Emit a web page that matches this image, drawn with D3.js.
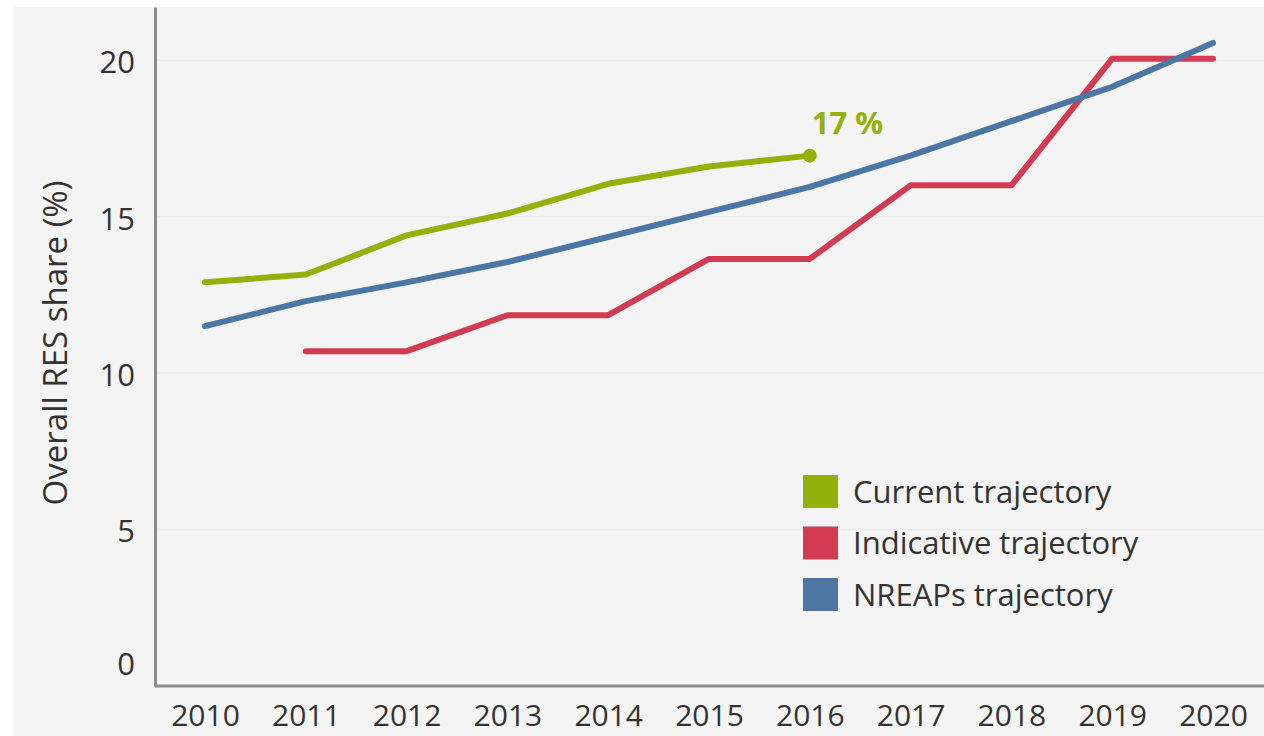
<!DOCTYPE html>
<html lang="en">
<head>
  <meta charset="UTF-8">
  <title>Overall RES share trajectories</title>
  <script src="https://d3js.org/d3.v7.min.js"></script>
  <style>
    body { margin: 0; background: #fff; }
    svg { display: block; }
    text { font-family: "Open Sans", sans-serif; fill: #333; }
  </style>
</head>
<body>
<svg width="1264" height="736"></svg>
<script>
  const years = [2010, 2011, 2012, 2013, 2014, 2015, 2016, 2017, 2018, 2019, 2020];
  const currentYears = [2010, 2011, 2012, 2013, 2014, 2015, 2016];
  const currentValues = [12.9, 13.15, 14.4, 15.1, 16.05, 16.6, 16.95];
  const indicativeYears = [2011, 2012, 2013, 2014, 2015, 2016, 2017, 2018, 2019, 2020];
  const indicativeValues = [10.7, 10.7, 11.85, 11.85, 13.65, 13.65, 16.0, 16.0, 20.05, 20.05];
  const nreapYears = years;
  const nreapValues = [11.5, 12.3, 12.9, 13.55, 14.35, 15.15, 15.95, 16.95, 18.05, 19.15, 20.55];
  const yTicks = [0, 5, 10, 15, 20];
  const seriesNames = ["Current trajectory", "Indicative trajectory", "NREAPs trajectory"];
  const seriesColors = ["#93b10a", "#d23b52", "#4c77a5"];

  const svg = d3.select("svg");
  const width = 1264, height = 736;
  const margin = { left: 155, top: 7 };
  const fs = 31;

  svg.append("rect")
    .attr("x", 13).attr("y", 7)
    .attr("width", width - 13).attr("height", height - 7)
    .attr("fill", "#f4f4f4");

  const x = d3.scaleLinear().domain([2010, 2020]).range([205, 1213]);
  const y = d3.scaleLinear().domain([0, 21.7]).range([686, 7]);

  // gridlines
  svg.append("g")
    .selectAll("line")
    .data(yTicks.filter(d => d > 0))
    .join("line")
    .attr("x1", margin.left).attr("x2", width)
    .attr("y1", d => y(d)).attr("y2", d => y(d))
    .attr("stroke", "#ececec").attr("stroke-width", 1.5);

  // y axis
  const yAxis = svg.append("g")
    .attr("transform", `translate(${margin.left},0)`)
    .call(d3.axisLeft(y).tickValues(yTicks).tickSize(0).tickPadding(20));
  yAxis.select(".domain").attr("stroke", "#8c8c8c").attr("stroke-width", 3);
  yAxis.selectAll("text")
    .attr("font-size", fs)
    .attr("font-family", "Open Sans, sans-serif")
    .attr("fill", "#333")
    .attr("dy", d => d === 0 ? "-0.38em" : "0.4em");

  // x axis
  const xAxis = svg.append("g")
    .attr("transform", `translate(0,${y(0)})`)
    .call(d3.axisBottom(x).tickValues(years).tickFormat(d3.format("d")).tickSize(0).tickPadding(19));
  xAxis.select(".domain").attr("d", `M${margin.left},0H${width}`)
    .attr("stroke", "#8c8c8c").attr("stroke-width", 3);
  xAxis.selectAll("text")
    .attr("font-size", 30)
    .attr("font-family", "Open Sans, sans-serif")
    .attr("fill", "#333");

  // y axis title
  svg.append("text")
    .attr("transform", `translate(67,343) rotate(-90)`)
    .attr("text-anchor", "middle")
    .attr("font-size", 33)
    .text("Overall RES share (%)");

  const line = d3.line().x(d => x(d[0])).y(d => y(d[1]));
  const series = [
    { name: seriesNames[1], color: seriesColors[1], pts: d3.zip(indicativeYears, indicativeValues) },
    { name: seriesNames[2], color: seriesColors[2], pts: d3.zip(nreapYears, nreapValues) },
    { name: seriesNames[0], color: seriesColors[0], pts: d3.zip(currentYears, currentValues) }
  ];

  svg.append("g")
    .selectAll("path")
    .data(series)
    .join("path")
    .attr("d", d => line(d.pts))
    .attr("fill", "none")
    .attr("stroke", d => d.color)
    .attr("stroke-width", 6)
    .attr("stroke-linejoin", "round")
    .attr("stroke-linecap", "round");

  // end marker + label for current trajectory
  const lastYear = currentYears[currentYears.length - 1];
  const lastVal = currentValues[currentValues.length - 1];
  svg.append("circle")
    .attr("cx", x(lastYear)).attr("cy", y(lastVal)).attr("r", 7)
    .attr("fill", seriesColors[0]);
  svg.append("text")
    .attr("x", x(lastYear) + 2).attr("y", y(lastVal) - 22)
    .attr("font-size", fs).attr("font-weight", "bold")
    .style("fill", seriesColors[0])
    .text(Math.round(lastVal) + " %");

  // legend
  const legend = svg.append("g").attr("transform", "translate(803,475)");
  const item = legend.selectAll("g")
    .data(seriesNames)
    .join("g")
    .attr("transform", (d, i) => `translate(0,${i * 51.5})`);
  item.append("rect")
    .attr("width", 35).attr("height", 33)
    .attr("fill", (d, i) => seriesColors[i]);
  item.append("text")
    .attr("x", 50).attr("y", 17).attr("dy", "0.35em")
    .attr("font-size", fs)
    .text(d => d);
</script>
</body>
</html>
